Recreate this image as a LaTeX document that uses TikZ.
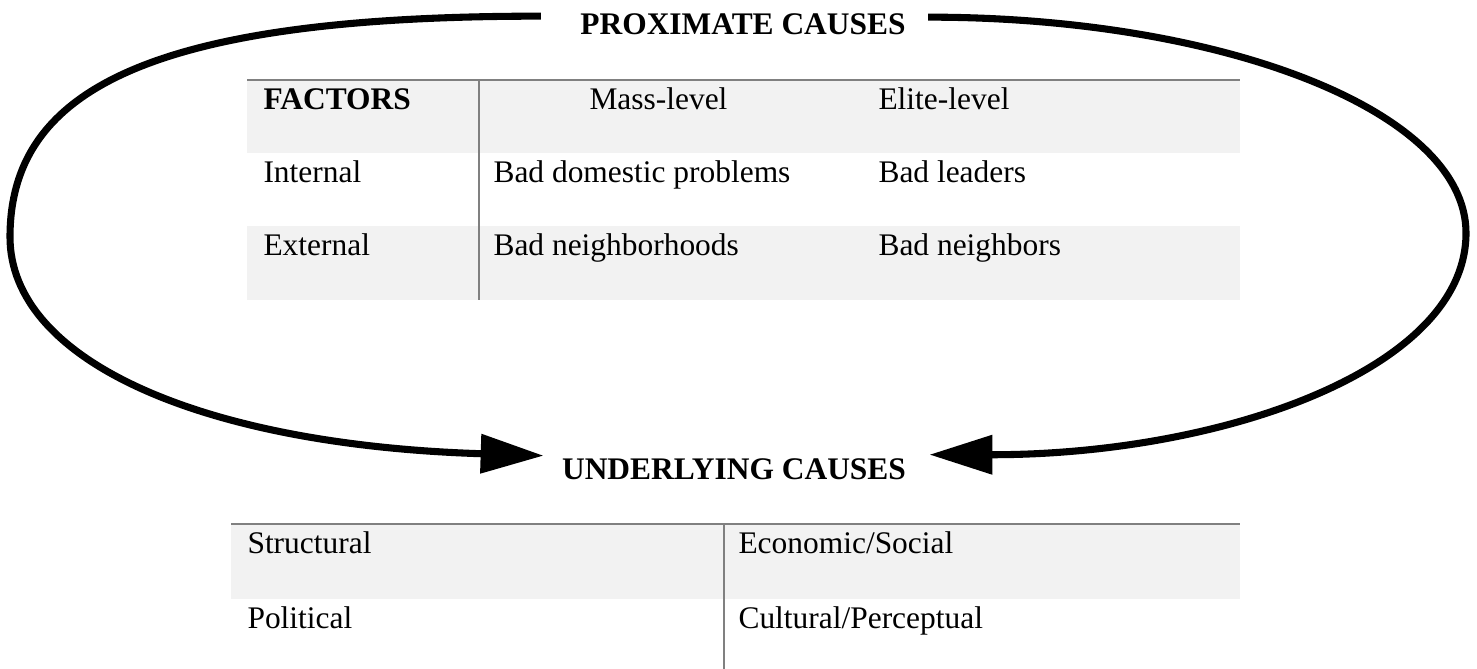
\documentclass[tikz,border=0pt]{standalone}
\usepackage{fontspec}
\setmainfont{Liberation Serif}
\usetikzlibrary{arrows.meta}
\definecolor{rowgray}{HTML}{F2F2F2}
\definecolor{rulegray}{HTML}{808080}

\begin{document}
\begin{tikzpicture}[x=0.3817pt, y=-0.3817pt, >={Triangle[length=24pt,width=14.5pt]},
      every node/.style={font=\fontsize{12}{14}\selectfont, inner sep=0pt, anchor=base west},
      title/.style={font=\fontsize{12}{14}\selectfont\bfseries, anchor=base},
      cause/.style={line width=2.7pt, ->}]
      \useasboundingbox (0,0) rectangle (1477,669);
      % proximate causes table
      \fill[rowgray] (247,80) rectangle (1240,153);
      \fill[rowgray] (247,226) rectangle (1240,300);
      \draw[rulegray, line width=0.9pt] (247,80) -- (1240,80);
      \draw[rulegray, line width=0.6pt] (479,80) -- (479,300);
      \node[font=\fontsize{12}{14}\selectfont\bfseries] (fac) at (263,110) {FACTORS};
      \node (mass) at (589,110) {Mass-level};
      \node (elite) at (878,110) {Elite-level};
      \node (int) at (263,183) {Internal};
      \node (dom) at (493,183) {Bad domestic problems};
      \node (lead) at (878,183) {Bad leaders};
      \node (ext) at (263,256) {External};
      \node (hood) at (493,256) {Bad neighborhoods};
      \node (nbr) at (878,256) {Bad neighbors};
      % underlying causes table
      \fill[rowgray] (231,524) rectangle (1240,599);
      \draw[rulegray, line width=0.9pt] (231,524) -- (1240,524);
      \draw[rulegray, line width=0.6pt] (724,524) -- (724,669);
      \node (struc) at (247,553) {Structural};
      \node (econ) at (738,553) {Economic/Social};
      \node (pol) at (247,628) {Political};
      \node (cult) at (738,628) {Cultural/Perceptual};
      % titles and arcs
      \node[title] (prox) at (743,35) {PROXIMATE CAUSES};
      \node[title] (under) at (734,479) {UNDERLYING CAUSES};
      \draw[cause] ([shift={(-39,2.5)}]prox.north west) .. controls (150,16) and (10,90) .. (10,237)
            .. controls (10,360) and (200,445) .. ([shift={(-18,-2)}]under.north west);
      \draw[cause] ([shift={(22,3.5)}]prox.north east) .. controls (1220,17) and (1466,110) .. (1466,233)
            .. controls (1466,370) and (1220,455) .. ([shift={(23,-3)}]under.north east);
    \end{tikzpicture}
\end{document}
